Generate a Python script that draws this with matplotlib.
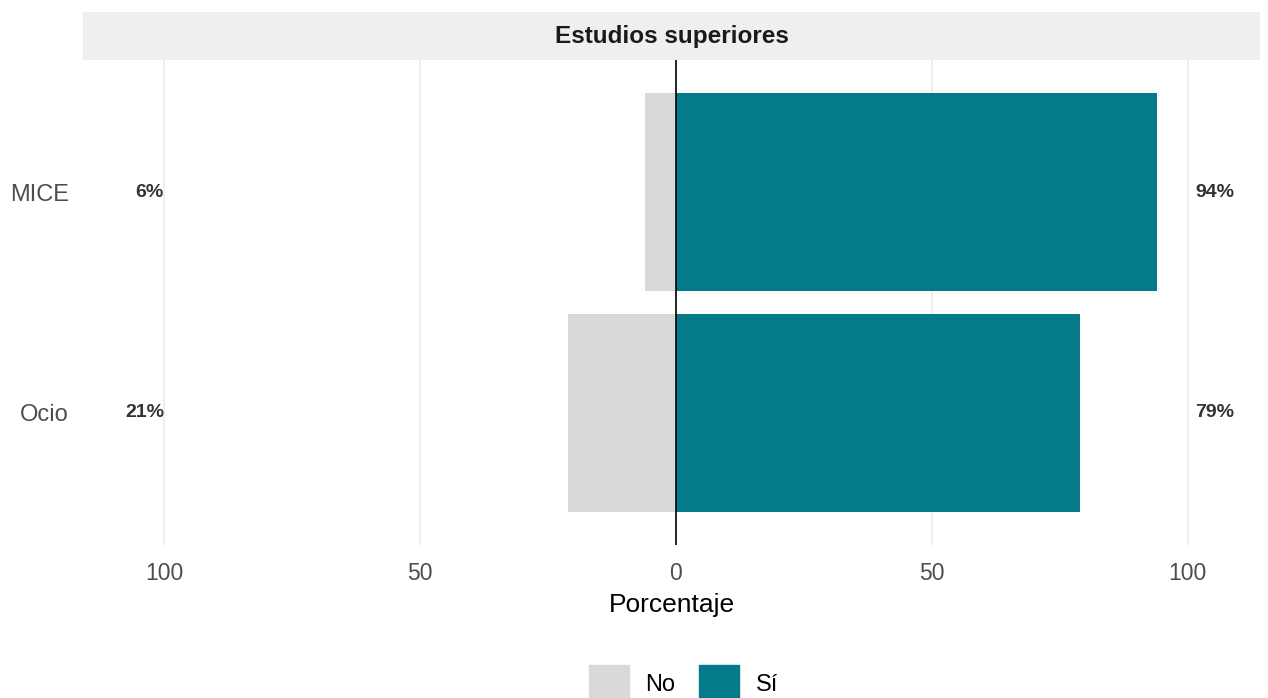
import matplotlib.pyplot as plt
from matplotlib.patches import Patch

plt.rcParams['font.family'] = ['Liberation Sans', 'DejaVu Sans']

# data
categorias = ['Ocio', 'MICE']
pct_no = [21, 6]
pct_si = [79, 94]
ticks = [-100, -50, 0, 50, 100]
tick_labels = ['100', '50', '0', '50', '100']

col_no = '#D9D9D9'
col_si = '#057A8A'

fig = plt.figure(figsize=(12.68, 6.98), dpi=100)
W, H = 1268, 698
ax = fig.add_axes([83 / W, 1 - 545 / H, (1260 - 83) / W, (545 - 60) / H])

ypos = list(range(len(categorias)))
no_vals = [-v for v in pct_no]
ax.barh(ypos, no_vals, height=0.9, color=col_no, zorder=2)
ax.barh(ypos, pct_si, height=0.9, color=col_si, zorder=2)

# percent labels at the sides
for y, n, s in zip(ypos, pct_no, pct_si):
    ax.text(-100, y, f'{n}%', ha='right', va='center', fontsize=14,
            fontweight='bold', color='#333333')
    ax.text(101.5, y, f'{s}%', ha='left', va='center', fontsize=14,
            fontweight='bold', color='#333333')

ax.axvline(0, color='black', lw=1.2, zorder=3)
for t in ticks:
    if t != 0:
        ax.axvline(t, color='#EBEBEB', lw=1.2, zorder=1)

ax.set_xlim(-115.8, 114.1)
ax.set_ylim(-0.6, 1.6)
ax.set_xticks(ticks)
ax.set_xticklabels(tick_labels, fontsize=16.5, color='#4D4D4D')
ax.set_yticks(ypos)
ax.set_yticklabels(categorias, fontsize=17, color='#4D4D4D')
ax.tick_params(axis='x', length=0, pad=12)
ax.tick_params(axis='y', length=0, pad=10)
for sp in ax.spines.values():
    sp.set_visible(False)
ax.set_xlabel('Porcentaje', fontsize=19, color='black', labelpad=6)

# facet strip
strip = fig.add_axes([83 / W, 1 - 60 / H, (1260 - 83) / W, 48 / H])
strip.set_facecolor('#EFEFEF')
strip.set_xticks([])
strip.set_yticks([])
for sp in strip.spines.values():
    sp.set_visible(False)
strip.text(0.5, 0.5, 'Estudios superiores', ha='center', va='center',
           fontsize=17.5, fontweight='bold', color='#1A1A1A',
           transform=strip.transAxes)

handles = [Patch(color=col_no, label='No'), Patch(color=col_si, label='Sí')]
fig.legend(handles=handles, loc='center', bbox_to_anchor=(0.539, 1 - 684 / H),
           ncol=2, frameon=False, fontsize=17, handlelength=1.7,
           handleheight=2.1, handletextpad=0.7, columnspacing=1.0)

fig.savefig('out.png', dpi=100)
